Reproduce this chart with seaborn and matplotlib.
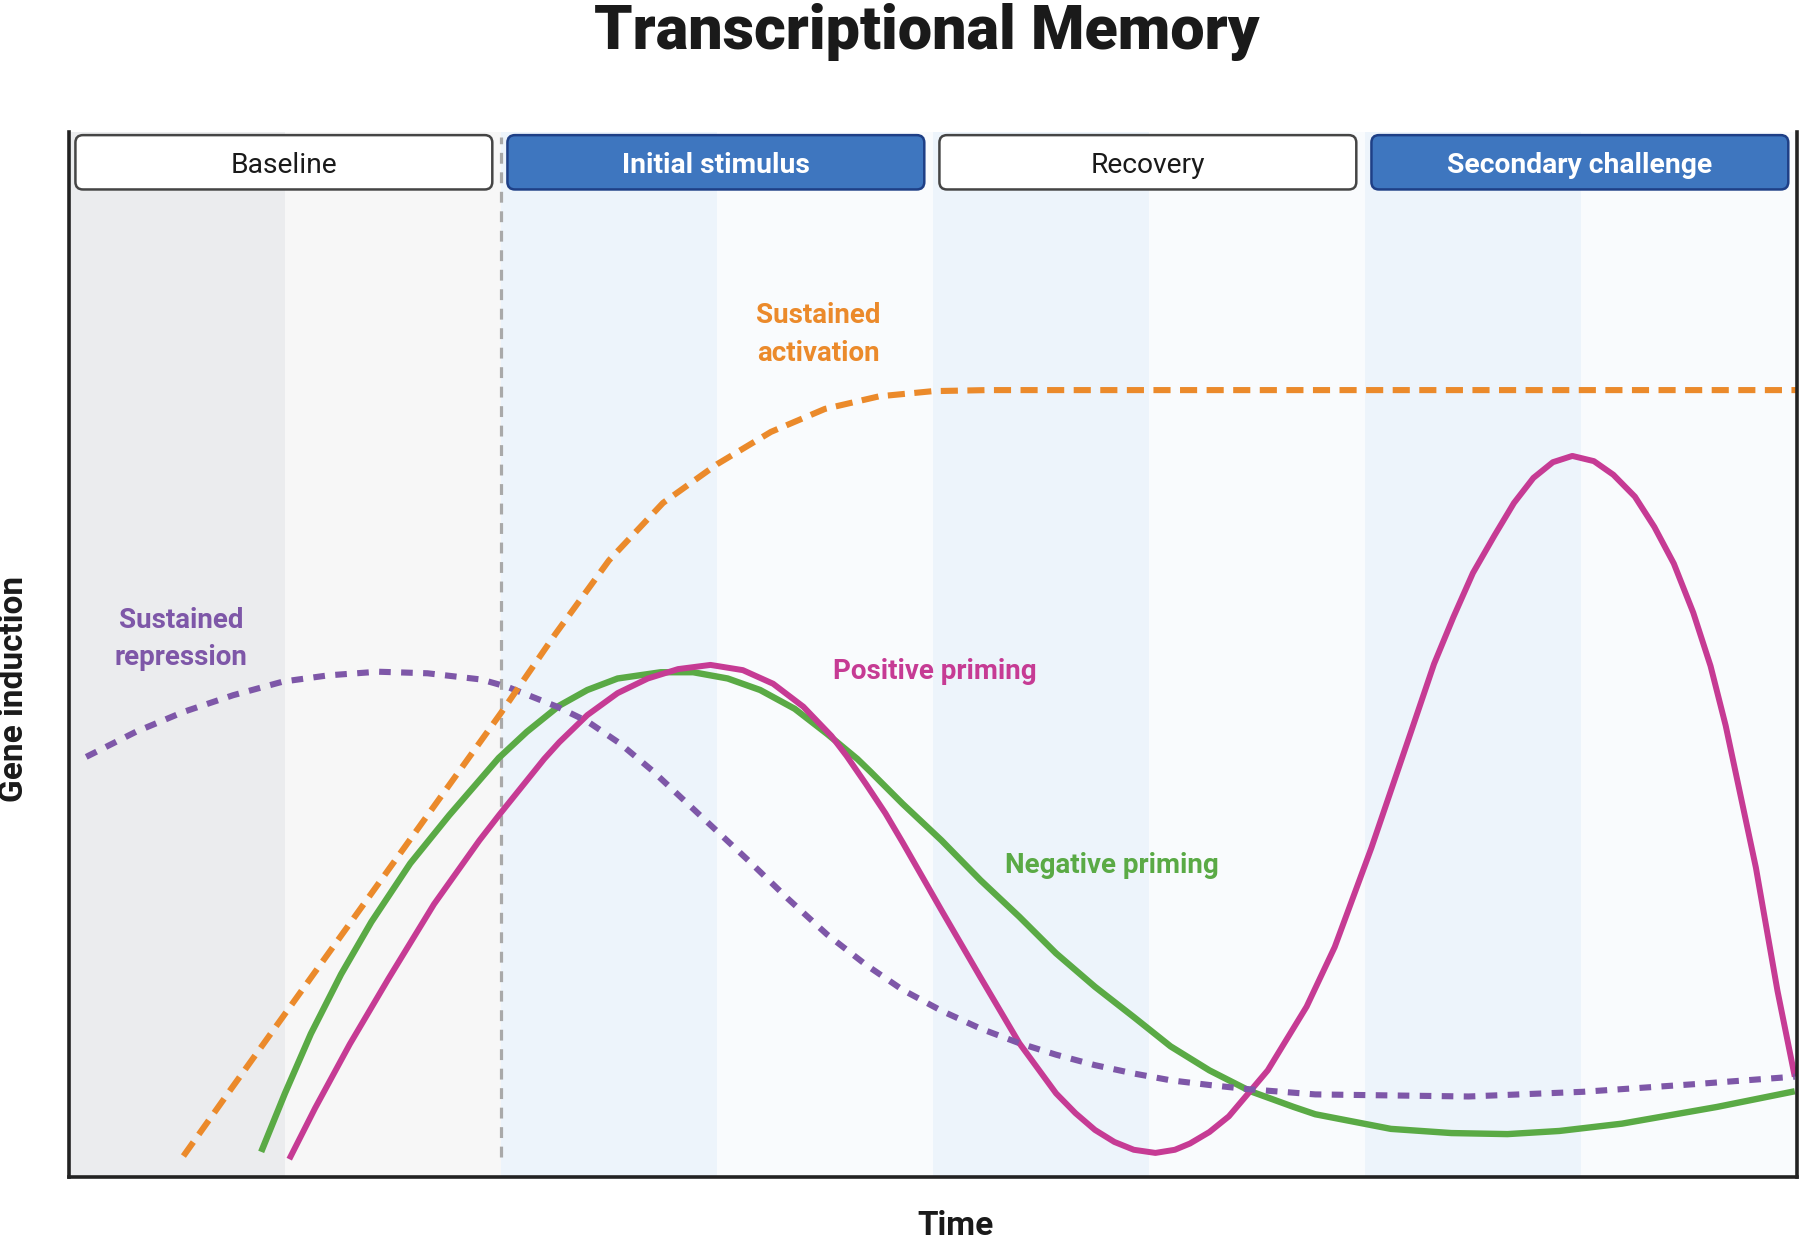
import matplotlib
matplotlib.use("Agg")
import matplotlib.pyplot as plt
import seaborn as sns
from matplotlib.patches import FancyBboxPatch

# phases along the time axis (each phase covers two shaded bands)
phases = ["Baseline", "Initial stimulus", "Recovery", "Secondary challenge"]
phase_is_stimulus = [False, True, False, True]

# curves (x: time in band units 0-8, y: induction 0-100)
activation_x = [0.53, 0.75, 1.00, 1.25, 1.50, 1.75, 2.00, 2.25, 2.50, 2.75, 3.00, 3.25,
                3.50, 3.75, 4.00, 4.25, 5.00, 6.00, 7.00, 8.00]
activation_y = [2.0, 8.4, 15.6, 22.8, 30.0, 37.2, 44.4, 51.9, 59.0, 64.5, 68.2, 71.3,
                73.5, 74.7, 75.2, 75.3, 75.3, 75.3, 75.3, 75.3]

repression_x = [0.08, 0.31, 0.53, 0.76, 0.99, 1.20, 1.43, 1.66, 1.91, 2.03, 2.26, 2.40,
                2.55, 2.70, 2.85, 3.00, 3.15, 3.33, 3.51, 3.69, 3.86, 4.04, 4.22, 4.40,
                4.57, 4.75, 4.93, 5.10, 5.28, 5.46, 5.77, 6.48, 7.01, 7.54, 7.99]
repression_y = [40.2, 42.6, 44.5, 46.1, 47.4, 48.0, 48.35, 48.2, 47.6, 46.9, 45.0, 43.6,
                41.5, 38.9, 36.0, 33.1, 30.2, 26.6, 23.2, 20.3, 17.9, 15.9, 14.2, 12.8,
                11.7, 10.7, 9.9, 9.25, 8.8, 8.4, 7.9, 7.7, 8.15, 8.9, 9.6]

positive_x = [1.02, 1.14, 1.30, 1.48, 1.69, 1.90, 1.99, 2.20, 2.27, 2.40, 2.54, 2.68,
              2.82, 2.97, 3.12, 3.26, 3.40, 3.53, 3.60, 3.69, 3.78, 3.86, 4.04, 4.22,
              4.40, 4.57, 4.66, 4.75, 4.84, 4.93, 5.03, 5.12, 5.19, 5.28, 5.37, 5.55,
              5.73, 5.86, 6.03, 6.21, 6.32, 6.41, 6.50, 6.60, 6.69, 6.78, 6.87, 6.96,
              7.06, 7.15, 7.25, 7.34, 7.43, 7.52, 7.60, 7.67, 7.81, 7.91, 7.99]
positive_y = [1.7, 6.6, 12.7, 19.0, 26.1, 32.2, 34.6, 40.0, 41.6, 44.2, 46.3, 47.7,
              48.6, 49.0, 48.5, 47.2, 45.0, 42.2, 40.3, 37.6, 34.8, 32.0, 25.5, 19.1,
              12.8, 8.0, 6.1, 4.5, 3.35, 2.6, 2.3, 2.6, 3.2, 4.3, 5.8, 10.2,
              16.3, 22.0, 31.5, 42.4, 49.1, 53.6, 57.8, 61.4, 64.5, 66.9, 68.4, 69.0,
              68.5, 67.2, 65.1, 62.2, 58.7, 54.0, 48.9, 43.2, 29.6, 17.8, 9.6]

negative_x = [0.89, 1.00, 1.12, 1.26, 1.40, 1.58, 1.76, 1.99, 2.12, 2.27, 2.40, 2.54,
              2.74, 2.89, 3.05, 3.20, 3.36, 3.51, 3.65, 3.71, 3.86, 4.04, 4.22, 4.40,
              4.57, 4.75, 4.93, 5.10, 5.28, 5.47, 5.67, 5.77, 6.12, 6.40, 6.66, 6.90,
              7.19, 7.63, 7.99]
negative_y = [2.4, 8.0, 13.7, 19.4, 24.4, 30.0, 34.6, 40.1, 42.6, 45.1, 46.6, 47.7,
              48.3, 48.3, 47.7, 46.6, 44.8, 42.4, 40.0, 38.8, 35.7, 32.2, 28.4, 24.9,
              21.4, 18.2, 15.3, 12.5, 10.2, 8.2, 6.7, 6.0, 4.6, 4.2, 4.1, 4.4,
              5.1, 6.7, 8.2]

ORANGE = "#EB8A2B"
PURPLE = "#7E57A8"
MAGENTA = "#C63B94"
GREEN = "#5AAA45"

sns.set_theme(style="white")
plt.rcParams["font.family"] = ["Roboto", "DejaVu Sans"]

fig = plt.figure(figsize=(18, 12.44), dpi=100)
fig.patch.set_facecolor("white")
ax = fig.add_axes([0.0383, 0.0539, 0.960, 0.840])
ax.set_facecolor("white")

# background shading, two bands per phase
band_colors = ["#EBECEE", "#F7F7F7", "#EDF4FB", "#F9FBFD",
               "#EDF4FB", "#F9FBFD", "#EDF4FB", "#F9FBFD"]
for i, c in enumerate(band_colors):
    ax.axvspan(i, i + 1, color=c, lw=0, zorder=0)

# stimulus onset marker
ax.axvline(2, ymin=0.019, ymax=0.995, color="#A9A9A9", lw=2.3,
           dashes=(3.4, 2.7), zorder=1)

# -----------------------------
# curves
# -----------------------------
curves = [
    (negative_x, negative_y, GREEN, None, 4.6),
    (positive_x, positive_y, MAGENTA, None, 4.3),
    (repression_x, repression_y, PURPLE, (1.9, 1.7), 4.4),
    (activation_x, activation_y, ORANGE, (2.8, 1.55), 4.4),
]
for xs, ys, col, dash, lw in curves:
    sns.lineplot(x=xs, y=ys, ax=ax, color=col, lw=lw, sort=False,
                 estimator=None, zorder=3)
    line = ax.lines[-1]
    line.set_solid_joinstyle("round")
    line.set_solid_capstyle("butt")
    if dash:
        line.set_dashes(dash)
        line.set_dash_capstyle("butt")
        line.set_dash_joinstyle("round")

# -----------------------------
# phase boxes on top
# -----------------------------
for i, (name, stim) in enumerate(zip(phases, phase_is_stimulus)):
    x0, w, y0, h = 2 * i + 0.03, 1.93, 94.5, 5.2
    fc = "#3E76BF" if stim else "white"
    ec = "#1E3F86" if stim else "#454545"
    box = FancyBboxPatch((x0, y0), w, h,
                         boxstyle="round,pad=0,rounding_size=0.035",
                         mutation_aspect=20.6, fc=fc, ec=ec, lw=1.8, zorder=5)
    ax.add_patch(box)
    ax.text(x0 + w / 2, y0 + h / 2, name, ha="center", va="center_baseline",
            fontsize=20.3, fontweight="bold" if stim else "normal",
            color="white" if stim else "#1a1a1a", zorder=6)

# curve labels
lab = dict(ha="center", va="center", fontsize=20, fontweight="bold",
           linespacing=1.5, zorder=6)
ax.text(3.47, 80.6, "Sustained\nactivation", color=ORANGE, **lab)
ax.text(0.52, 51.5, "Sustained\nrepression", color=PURPLE, **lab)
ax.text(4.01, 48.4, "Positive priming", color=MAGENTA, **lab)
ax.text(4.83, 29.8, "Negative priming", color=GREEN, **lab)

ax.set_xlim(0, 8)
ax.set_ylim(0, 100)
ax.set_xticks([])
ax.set_yticks([])
ax.spines["top"].set_visible(False)
for s in ["left", "bottom", "right"]:
    ax.spines[s].set_visible(True)
    ax.spines[s].set_linewidth(2.6)
    ax.spines[s].set_color("#222222")
    ax.spines[s].set_zorder(7)

fig.text(0.515, 0.961, "Transcriptional Memory", ha="center", va="baseline",
         fontsize=44, fontweight="black", color="#1a1a1a")
fig.text(0.0078, 0.446, "Gene induction", rotation=90, ha="center", va="center",
         fontsize=24, fontweight="bold", color="#1a1a1a")
fig.text(0.531, 0.002, "Time", ha="center", va="bottom",
         fontsize=24, fontweight="bold", color="#1a1a1a")

fig.savefig("out.png", dpi=100, facecolor="white")
